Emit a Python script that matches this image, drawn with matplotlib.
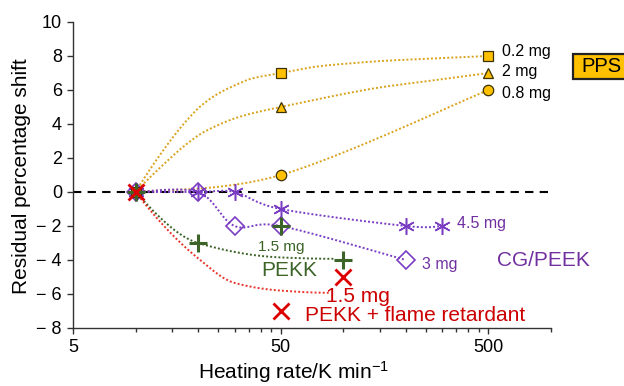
import numpy as np
import matplotlib
matplotlib.use("Agg")
import matplotlib.pyplot as plt
from matplotlib.ticker import FixedLocator, NullFormatter
from matplotlib.patches import Rectangle

plt.rcParams['font.family'] = ['Liberation Sans', 'DejaVu Sans']
plt.rcParams['mathtext.fontset'] = 'custom'
plt.rcParams['mathtext.rm'] = 'Liberation Sans'
plt.rcParams['mathtext.default'] = 'regular'

# ---------------- data (markers) ----------------
x_pps = [10, 50, 500]
pps_02mg = [0, 7, 8]
pps_2mg = [0, 5, 7]
pps_08mg = [0, 1, 6]

x_cg_45mg = [10, 20, 30, 50, 200, 300]
cg_45mg = [0, 0, 0, -1, -2, -2]
x_cg_3mg = [10, 20, 30, 50, 200]
cg_3mg = [0, 0, -2, -2, -4]

x_pekk = [10, 20, 50, 100]
pekk = [0, -3, -2, -4]

x_pekk_fr = [10, 50, 100]
pekk_fr = [0, -7, -5]

# ---------------- data (dotted trend curves) ----------------
x_pps_02mg_trend = [10, 14.4, 17.4, 20.8, 25, 30, 36.2, 50, 61.6, 71.5, 103.5, 150, 265, 500]
pps_02mg_trend = [0, 2.87, 4.13, 5.1, 5.79, 6.27, 6.67, 7.0, 7.2, 7.35, 7.55, 7.7, 7.85, 8.0]
x_pps_2mg_trend = [10, 14.4, 17.4, 20.8, 25, 30, 36.2, 50, 71.5, 103.5, 150, 265, 500]
pps_2mg_trend = [0, 1.89, 2.77, 3.45, 3.94, 4.33, 4.62, 5.0, 5.4, 5.8, 6.15, 6.55, 7.0]
x_pekk_trend = [10, 20, 50, 90]
pekk_trend = [0, -3, -3.85, -3.93]
x_pekk_fr_trend = [10, 20, 30, 50, 85]
pekk_fr_trend = [0, -3.9, -5.35, -5.8, -5.93]

x_major = [5, 50, 500]
x_major_labels = ['5', '50', '500']
y_ticks = [-8, -6, -4, -2, 0, 2, 4, 6, 8, 10]

# ---------------- helpers ----------------
YS = 17.0 / 208.0  # aspect of y unit vs decade in display


def smooth(xs, ys, n=40):
    """Excel-like Catmull-Rom smoothing in display-like (log x) space."""
    u = np.log10(np.asarray(xs, float))
    v = np.asarray(ys, float) * YS
    P = np.column_stack([u, v])
    P = np.vstack([P[0], P, P[-1]])
    out = []
    for i in range(1, len(P) - 2):
        p0, p1, p2, p3 = P[i - 1], P[i], P[i + 1], P[i + 2]
        c1 = p1 + (p2 - p0) / 6.0
        c2 = p2 - (p3 - p1) / 6.0
        t = np.linspace(0, 1, n)[:, None]
        b = ((1 - t) ** 3) * p1 + 3 * ((1 - t) ** 2) * t * c1 + 3 * (1 - t) * t ** 2 * c2 + t ** 3 * p2
        out.append(b if i == 1 else b[1:])
    B = np.vstack(out)
    return 10 ** B[:, 0], B[:, 1] / YS


def pchip(xs, ys, n=300):
    """Monotone cubic (Fritsch-Carlson) curve in log-x."""
    u = np.log10(np.asarray(xs, float))
    y = np.asarray(ys, float)
    h = np.diff(u)
    d = np.diff(y) / h
    m = np.zeros_like(y)
    for k in range(1, len(y) - 1):
        if d[k - 1] * d[k] > 0:
            w1 = 2 * h[k] + h[k - 1]
            w2 = h[k] + 2 * h[k - 1]
            m[k] = (w1 + w2) / (w1 / d[k - 1] + w2 / d[k])

    def end(h0, h1, d0, d1):
        e = ((2 * h0 + h1) * d0 - h0 * d1) / (h0 + h1)
        if np.sign(e) != np.sign(d0):
            e = 0.0
        elif np.sign(d0) != np.sign(d1) and abs(e) > abs(3 * d0):
            e = 3 * d0
        return e

    if len(y) > 2:
        m[0] = end(h[0], h[1], d[0], d[1])
        m[-1] = end(h[-1], h[-2], d[-1], d[-2])
    else:
        m[:] = d[0]
    uu = np.linspace(u[0], u[-1], n)
    idx = np.clip(np.searchsorted(u, uu) - 1, 0, len(h) - 1)
    t = (uu - u[idx]) / h[idx]
    h00 = 2 * t ** 3 - 3 * t ** 2 + 1
    h10 = t ** 3 - 2 * t ** 2 + t
    h01 = -2 * t ** 3 + 3 * t ** 2
    h11 = t ** 3 - t ** 2
    yy = h00 * y[idx] + h10 * h[idx] * m[idx] + h01 * y[idx + 1] + h11 * h[idx] * m[idx + 1]
    return 10 ** uu, yy


fig = plt.figure(figsize=(6.24, 3.86), dpi=100)
ax = fig.add_axes([73 / 624, 1 - 328 / 386, 478 / 624, 306 / 386])
ax.set_xscale('log')
ax.set_xlim(5, 1000)
ax.set_ylim(-8, 10)

orange_line = '#D9A21B'
orange_fill = '#FFC000'
purple = '#7B3CC4'
purple_text = '#7030A0'
green = '#3C6428'
red = '#DD0000'
red_line = '#E8352A'
dots = (0, (1, 1.1))

ax.axhline(0, color='black', lw=1.5, ls=(0, (4, 3)), zorder=1)

# trend curves
for xs, ys, c in [(x_pps_02mg_trend, pps_02mg_trend, orange_line),
                  (x_pps_2mg_trend, pps_2mg_trend, orange_line),
                  (x_pekk_trend, pekk_trend, green), (x_pekk_fr_trend, pekk_fr_trend, red_line)]:
    sx, sy = pchip(xs, ys)
    ax.plot(sx, sy, color=c, lw=1.4, ls=dots, zorder=2)
for xs, ys, c in [(x_pps, pps_08mg, orange_line),
                  (x_cg_45mg, cg_45mg, purple), (x_cg_3mg, cg_3mg, purple)]:
    sx, sy = smooth(xs, ys)
    ax.plot(sx, sy, color=c, lw=1.4, ls=dots, zorder=2)

# markers
ax.plot(x_pps, pps_02mg, ls='none', marker='s', ms=7, mfc=orange_fill, mec='#3a3000', mew=0.9, zorder=5)
ax.plot(x_pps, pps_2mg, ls='none', marker='^', ms=7.5, mfc=orange_fill, mec='#3a3000', mew=0.9, zorder=5)
ax.plot(x_pps, pps_08mg, ls='none', marker='o', ms=7.5, mfc=orange_fill, mec='#3a3000', mew=0.9, zorder=5)
ax.plot(x_cg_3mg, cg_3mg, ls='none', marker='D', ms=9, mfc='none', mec=purple, mew=1.2, zorder=4)
ax.plot(x_cg_45mg, cg_45mg, ls='none', marker=(6, 2, 0), ms=12, mec=purple, mew=1.1, zorder=4)
ax.plot(x_pekk, pekk, ls='none', marker='+', ms=13, mec=green, mew=2.2, zorder=6)
ax.plot(x_pekk_fr, pekk_fr, ls='none', marker='x', ms=11, mec=red, mew=2.0, zorder=6)

# axes styling
for s in ['top', 'right']:
    ax.spines[s].set_visible(False)
for s in ['left', 'bottom']:
    ax.spines[s].set_color('#333333')
    ax.spines[s].set_linewidth(1.0)

ax.xaxis.set_major_locator(FixedLocator(x_major))
ax.set_xticklabels(x_major_labels)
minors = [k * m for m in (5, 50, 500) for k in range(2, 10)]
minors = [v for v in minors if v <= 1000]
ax.xaxis.set_minor_locator(FixedLocator(minors))
ax.xaxis.set_minor_formatter(NullFormatter())
ax.set_yticks(y_ticks)
ax.set_yticklabels([('− %d' % -v) if v < 0 else str(v) for v in y_ticks])
ax.tick_params(axis='both', which='major', direction='out', length=4, width=1, color='#333333',
               labelsize=13, pad=4)
ax.tick_params(axis='x', which='minor', direction='out', length=3, width=1, color='#333333')

ax.text(-0.107, 0.497, 'Residual percentage shift', transform=ax.transAxes, rotation=90,
        ha='center', va='center', fontsize=15)
ax.text(0.461, -0.143, r'Heating rate/K min$^{-1}$', transform=ax.transAxes,
        ha='center', va='center', fontsize=15)

# annotations
ax.text(584, 8.24, '0.2 mg', fontsize=11.5, va='center', ha='left')
ax.text(584, 7.06, '2 mg', fontsize=11.5, va='center', ha='left')
ax.text(584, 5.82, '0.8 mg', fontsize=11.5, va='center', ha='left')
ax.text(354, -1.88, '4.5 mg', fontsize=11.5, va='center', ha='left', color=purple_text)
ax.text(240, -4.29, '3 mg', fontsize=11.5, va='center', ha='left', color=purple_text)
ax.text(548, -4.0, 'CG/PEEK', fontsize=15, va='center', ha='left', color=purple_text)
ax.text(38.8, -3.24, '1.5 mg', fontsize=11, va='center', ha='left', color=green)
ax.text(40.5, -4.63, 'PEKK', fontsize=15, va='center', ha='left', color=green)
ax.text(83, -6.12, '1.5 mg', fontsize=15, va='center', ha='left', color='#CC0000')
ax.text(65.3, -7.24, 'PEKK + flame retardant', fontsize=15, va='center', ha='left', color='#CC0000')

# PPS label box (runs off the right edge of the figure)
fig.patches.append(Rectangle((573 / 624, 1 - 78.5 / 386), 70 / 624, 24.5 / 386,
                             transform=fig.transFigure, fc=orange_fill, ec='#222222', lw=1.6,
                             clip_on=False))
fig.text(581.5 / 624, 1 - 66.5 / 386, 'PPS', fontsize=14.5, ha='left', va='center')

fig.savefig('out.png', dpi=100)
